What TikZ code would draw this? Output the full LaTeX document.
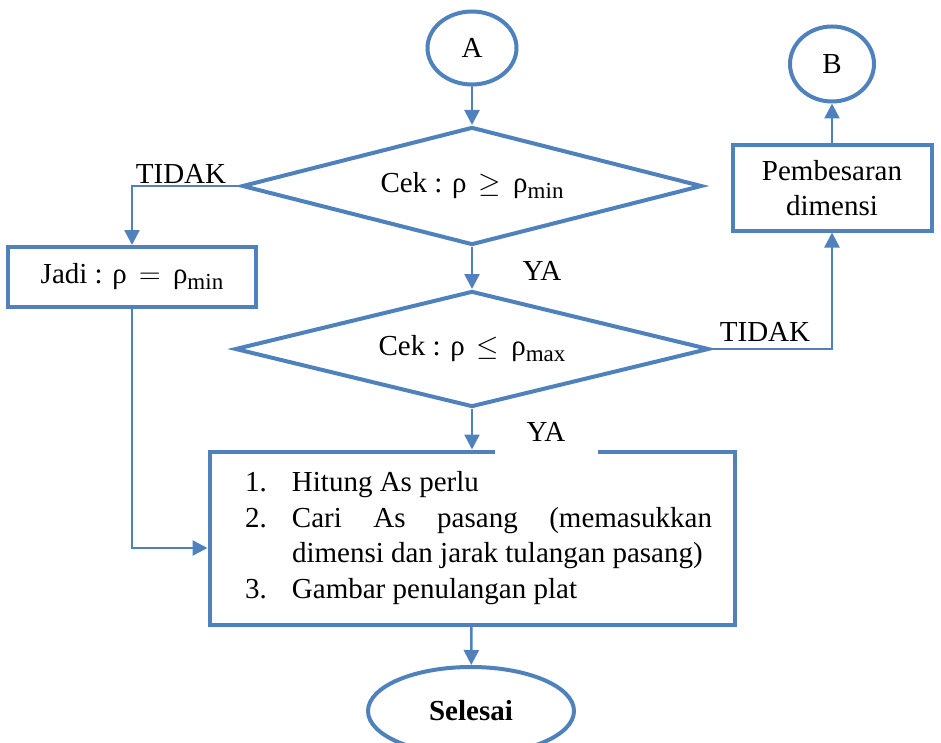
\documentclass[tikz,border=0pt]{standalone}
\usepackage{fontspec}
\setmainfont{Liberation Serif}
\usepackage{tikz}
\usetikzlibrary{shapes.geometric,arrows.meta}
\definecolor{flowblue}{RGB}{79,129,189}
\newcommand{\bawah}[1]{\raisebox{-0.4ex}{\fontsize{11.5}{11.5}\selectfont #1}}

\begin{document}
\begin{tikzpicture}[x=0.5pt,y=-0.5pt,
  every node/.style={font=\fontsize{14.5}{17.75}\selectfont},
  shp/.style={draw=flowblue, line width=2pt},
  oval/.style={shp, ellipse, inner sep=0pt},
  cek/.style={shp, diamond, aspect=4, inner sep=0pt},
  kotak/.style={shp, rectangle},
  lbl/.style={inner sep=1pt},
  arr/.style={draw=flowblue, line width=1.25pt, -{Triangle[length=7.5pt,width=7.5pt]}}]
  \path[use as bounding box, clip] (0,0) rectangle (941,743);
  \node[oval, minimum width=44.5pt, minimum height=36.5pt] (A) at (472,48) {A};
  \node[oval, minimum width=42pt, minimum height=37.5pt] (B) at (832,64) {B};
  \node[cek, minimum width=230pt, minimum height=59pt] (cek1) at (472,186) {Cek : ρ \,$\geq$\, ρ\bawah{min}};
  \node[cek, minimum width=237pt, minimum height=58pt] (cek2) at (472,349) {Cek : ρ \,$\leq$\, ρ\bawah{max}};
  \node[kotak, minimum width=124pt, minimum height=30pt] (jadi) at (132,277) {Jadi : ρ \,$=$\, ρ\bawah{min}};
  \node[kotak, minimum width=99.5pt, minimum height=42.5pt, align=center] (besar) at (832,188) {Pembesaran\\dimensi};
  \node[kotak, minimum width=262.5pt, minimum height=86.5pt, text width=240pt, inner xsep=11.25pt, align=justify] (hitung) at (472,538) {%
    \leftskip=6.5pt
    \noindent\makebox[23.5pt][l]{1.}Hitung As perlu\par
    \hangindent=23.5pt\hangafter=1\noindent\makebox[23.5pt][l]{2.}Cari As pasang (memasukkan\linebreak \mbox{dimensi dan jarak tulangan pasang)}\par
    \noindent\makebox[23.5pt][l]{3.}Gambar penulangan plat\par};
  \node[oval, minimum width=103pt, minimum height=44pt, font=\fontsize{14.5}{17.75}\selectfont\bfseries] (selesai) at (471,711) {Selesai};

  \draw[arr] (A) -- (cek1);
  \draw[arr] (cek1) -- (cek2);
  \draw[arr] (cek2) -- (hitung);
  \draw[arr] (hitung) -- (selesai);
  \draw[arr] (cek1.west) -| (jadi.north);
  \draw[arr] (jadi.south) |- ([yshift=-5pt]hitung.west);
  \draw[arr] (cek2.east) -| (besar.south);
  \draw[arr] (besar) -- (B);

  \node[lbl] (ya1) at (542,271) {YA};
  \node[lbl, fill=white, minimum width=51.5pt, minimum height=22.5pt] (ya2) at (546,432) {YA};
  \node[lbl] (tidak1) at (181,174) {TIDAK};
  \node[lbl] (tidak2) at (765,332) {TIDAK};
\end{tikzpicture}
\end{document}
